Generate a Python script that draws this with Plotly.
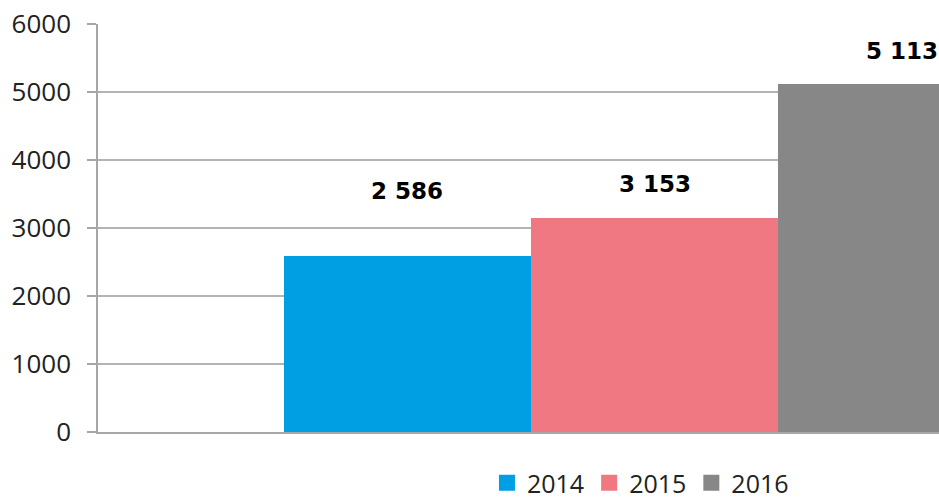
import plotly.graph_objects as go

categories = ["Всего"]
years = ["2014", "2015", "2016"]
values = [2586, 3153, 5113]
labels = ["2 586", "3 153", "5 113"]
colors = ["#009FE3", "#F07883", "#878787"]
label_shift = [65, 34, 33]

fig = go.Figure()
for yr, v, c in zip(years, values, colors):
    fig.add_trace(go.Bar(x=categories, y=[v], name=yr, marker=dict(color=c, line=dict(width=0)),
                         showlegend=False, hoverinfo="skip"))
# legend entries
for yr, c in zip(years, colors):
    fig.add_trace(go.Scatter(x=[None], y=[None], mode="markers", name=yr,
                             marker=dict(symbol="square", size=16, color=c), showlegend=True))

n = len(years)
for i, (v, t, s) in enumerate(zip(values, labels, label_shift)):
    off = (i - (n - 1) / 2) / n
    fig.add_annotation(x=0 + off, y=v, text=t, showarrow=False, yshift=s, yanchor="middle",
                       font=dict(family="DejaVu Sans", size=23, color="#000000", weight="bold"))

fig.update_layout(
    width=939, height=504,
    margin=dict(l=98, r=0, t=24, b=72, autoexpand=False),
    plot_bgcolor="white", paper_bgcolor="white",
    barmode="group", bargap=0, bargroupgap=0,
    font=dict(family="Open Sans", size=25, color="#222222"),
    legend=dict(orientation="h", x=0.4625, xanchor="left", y=-0.125, yanchor="middle",
                font=dict(family="Open Sans", size=25, color="#222222"), itemwidth=30,
                bgcolor="rgba(0,0,0,0)"),
)
fig.update_xaxes(type="category", range=[-0.75, 0.383], showticklabels=False, ticks="",
                 showline=True, linecolor="#A6A6A6", linewidth=1.5, showgrid=False, zeroline=False,
                 automargin=False)
fig.update_yaxes(range=[0, 6000], dtick=1000, tick0=0, showline=True, linecolor="#A6A6A6", linewidth=1.5,
                 ticks="outside", ticklen=9, tickcolor="#A6A6A6", tickwidth=1.5,
                 showgrid=True, gridcolor="#B3B3B3", gridwidth=1.5, zeroline=False, automargin=False,
                 ticklabelstandoff=11, tickfont=dict(family="Open Sans", size=26, color="#222222"))

fig.write_html("out.html", config={"displayModeBar": False},
               post_script="document.body.style.margin='0';document.body.style.overflow='hidden';")
